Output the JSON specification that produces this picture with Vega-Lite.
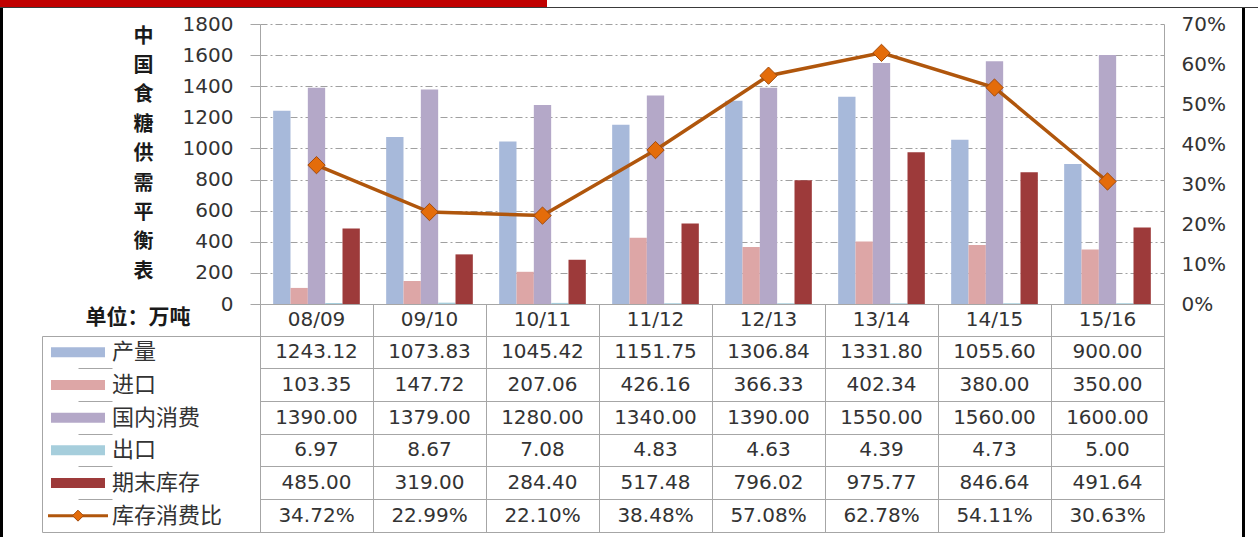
{
  "$schema": "https://vega.github.io/schema/vega-lite/v6.json",
  "padding": 0,
  "background": "white",
  "spacing": 0,
  "config": {"view": {"stroke": null}, "font": "DejaVu Sans"},
  "datasets": {
    "sugar": [
      {"year": "08/09", "产量": 1243.12, "进口": 103.35, "国内消费": 1390.00, "出口": 6.97, "期末库存": 485.00, "库存消费比": 0.3472},
      {"year": "09/10", "产量": 1073.83, "进口": 147.72, "国内消费": 1379.00, "出口": 8.67, "期末库存": 319.00, "库存消费比": 0.2299},
      {"year": "10/11", "产量": 1045.42, "进口": 207.06, "国内消费": 1280.00, "出口": 7.08, "期末库存": 284.40, "库存消费比": 0.2210},
      {"year": "11/12", "产量": 1151.75, "进口": 426.16, "国内消费": 1340.00, "出口": 4.83, "期末库存": 517.48, "库存消费比": 0.3848},
      {"year": "12/13", "产量": 1306.84, "进口": 366.33, "国内消费": 1390.00, "出口": 4.63, "期末库存": 796.02, "库存消费比": 0.5708},
      {"year": "13/14", "产量": 1331.80, "进口": 402.34, "国内消费": 1550.00, "出口": 4.39, "期末库存": 975.77, "库存消费比": 0.6278},
      {"year": "14/15", "产量": 1055.60, "进口": 380.00, "国内消费": 1560.00, "出口": 4.73, "期末库存": 846.64, "库存消费比": 0.5411},
      {"year": "15/16", "产量": 900.00, "进口": 350.00, "国内消费": 1600.00, "出口": 5.00, "期末库存": 491.64, "库存消费比": 0.3063}
    ],
    "legend": [
      {"series": "产量"}, {"series": "进口"}, {"series": "国内消费"}, {"series": "出口"}, {"series": "期末库存"}, {"series": "库存消费比"}
    ],
    "none": []
  },
  "data": {"name": "none"},
  "vconcat": [
    {"width": 547, "height": 7, "view": {"fill": "#C00000"}, "mark": "point", "encoding": {}},
    {"width": 1258, "height": 1, "view": {"fill": "#3A3A3A"}, "mark": "point", "encoding": {}},
    {
      "columns": 6,
      "spacing": 0,
      "bounds": "flush",
      "concat": [
        {"width": 3, "height": 16, "view": {"fill": "#000000"}, "mark": "point", "encoding": {}},
        {"width": 39, "height": 1, "mark": "point", "encoding": {}},
        {"width": 218, "height": 1, "mark": "point", "encoding": {}},
        {"width": 904, "height": 1, "mark": "point", "encoding": {}},
        {"width": 78, "height": 1, "mark": "point", "encoding": {}},
        {"width": 3, "height": 16, "view": {"fill": "#000000"}, "mark": "point", "encoding": {}},

        {"width": 3, "height": 280, "view": {"fill": "#000000"}, "mark": "point", "encoding": {}},
        {"width": 39, "height": 1, "mark": "point", "encoding": {}},
        {"width": 218, "height": 1, "mark": "point", "encoding": {}},
        {
          "width": 904,
          "height": 280,
          "data": {"name": "sugar"},
          "layer": [
            {
              "transform": [{"fold": ["产量", "进口", "国内消费", "出口", "期末库存"], "as": ["series", "value"]}],
              "mark": {"type": "bar"},
              "encoding": {
                "x": {"field": "year", "type": "nominal", "sort": null, "scale": {"type": "band", "paddingInner": 0, "paddingOuter": 0}, "axis": null},
                "xOffset": {"field": "series", "type": "nominal", "sort": ["产量", "进口", "国内消费", "出口", "期末库存"], "scale": {"paddingInner": 0, "paddingOuter": 0.76}},
                "y": {
                  "field": "value", "type": "quantitative",
                  "scale": {"domain": [0, 1800], "nice": false},
                  "axis": {
                    "orient": "left",
                    "values": [0, 200, 400, 600, 800, 1000, 1200, 1400, 1600, 1800],
                    "format": "d",
                    "title": ["中", "国", "食", "糖", "供", "需", "平", "衡", "表"],
                    "titleAngle": 0, "titleAlign": "center", "titleBaseline": "top",
                    "titleX": -117, "titleY": 2,
                    "titleFont": "Noto Sans CJK SC", "titleFontSize": 20, "titleFontWeight": "bold",
                    "titleColor": "#1A1A1A", "titleLineHeight": 29.4,
                    "grid": true, "gridColor": "#A0A0A0", "gridDash": [7, 3, 2, 3],
                    "domainColor": "#A6A6A6", "tickColor": "#A6A6A6", "tickSize": 10,
                    "labelPadding": 17, "labelFont": "DejaVu Sans", "labelFontSize": 20, "labelColor": "#333333"
                  }
                },
                "color": {
                  "field": "series", "type": "nominal",
                  "scale": {"domain": ["产量", "进口", "国内消费", "出口", "期末库存"], "range": ["#A7B9DA", "#DDA6A6", "#B4A8C8", "#A6CEDC", "#9D3A3A"]},
                  "legend": null
                }
              }
            },
            {
              "layer": [
                {
                  "mark": {"type": "line", "color": "#B0560C", "strokeWidth": 3.5},
                  "encoding": {
                    "x": {"field": "year", "type": "nominal", "sort": null, "scale": {"type": "band", "paddingInner": 0, "paddingOuter": 0}, "axis": null},
                    "y": {
                      "field": "库存消费比", "type": "quantitative",
                      "scale": {"domain": [0, 0.7], "nice": false},
                      "axis": {
                        "orient": "right", "title": null,
                        "values": [0, 0.1, 0.2, 0.3, 0.4, 0.5, 0.6, 0.7], "format": ".0%",
                        "grid": false, "ticks": false, "domainColor": "#A6A6A6",
                        "labelPadding": 17, "labelFont": "DejaVu Sans", "labelFontSize": 20, "labelColor": "#333333"
                      }
                    }
                  }
                },
                {
                  "mark": {"type": "point", "shape": "diamond", "filled": true, "size": 300, "fill": "#E46C0A", "stroke": "#A24A0B", "strokeWidth": 1, "opacity": 1},
                  "encoding": {
                    "x": {"field": "year", "type": "nominal", "sort": null, "scale": {"type": "band", "paddingInner": 0, "paddingOuter": 0}, "axis": null},
                    "y": {"field": "库存消费比", "type": "quantitative", "axis": {"orient": "right", "title": null, "values": [0, 0.1, 0.2, 0.3, 0.4, 0.5, 0.6, 0.7], "format": ".0%", "grid": false, "ticks": false, "domainColor": "#A6A6A6", "labelPadding": 17, "labelFont": "DejaVu Sans", "labelFontSize": 20, "labelColor": "#333333"}}
                  }
                }
              ]
            }
          ],
          "resolve": {"scale": {"y": "independent"}}
        },
        {"width": 78, "height": 1, "mark": "point", "encoding": {}},
        {"width": 3, "height": 280, "view": {"fill": "#000000"}, "mark": "point", "encoding": {}},

        {"width": 3, "height": 32, "view": {"fill": "#000000"}, "mark": "point", "encoding": {}},
        {"width": 39, "height": 1, "mark": "point", "encoding": {}},
        {
          "width": 218, "height": 32,
          "data": {"values": [{"unit": "单位：万吨"}]},
          "mark": {"type": "text", "font": "Noto Sans CJK SC", "fontSize": 21, "fontWeight": "bold", "color": "#1A1A1A", "dx": -13, "dy": -2},
          "encoding": {"text": {"field": "unit"}}
        },
        {
          "width": 904, "height": 32,
          "data": {"name": "sugar"},
          "view": {"stroke": "#A6A6A6"},
          "mark": {"type": "text", "font": "DejaVu Sans", "fontSize": 20, "color": "#333333"},
          "encoding": {
            "x": {"field": "year", "type": "nominal", "sort": null, "scale": {"type": "band", "paddingInner": 0, "paddingOuter": 0},
                  "axis": {"orient": "top", "title": null, "labels": false, "ticks": false, "domain": false, "grid": true, "bandPosition": 0, "gridColor": "#A6A6A6"}},
            "text": {"field": "year"}
          }
        },
        {"width": 78, "height": 1, "mark": "point", "encoding": {}},
        {"width": 3, "height": 32, "view": {"fill": "#000000"}, "mark": "point", "encoding": {}},

        {"width": 3, "height": 196, "view": {"fill": "#000000"}, "mark": "point", "encoding": {}},
        {"width": 39, "height": 1, "mark": "point", "encoding": {}},
        {
          "width": 218, "height": 196,
          "data": {"name": "legend"},
          "view": {"stroke": "#A6A6A6"},
          "encoding": {
            "y": {"field": "series", "type": "nominal",
                  "scale": {"type": "band", "domain": ["产量", "进口", "国内消费", "出口", "期末库存", "库存消费比"], "paddingInner": 0, "paddingOuter": 0},
                  "axis": {"title": null, "labels": false, "ticks": false, "domain": false, "grid": true, "bandPosition": 0, "gridColor": "#A6A6A6"}}
          },
          "layer": [
            {
              "transform": [{"filter": "datum.series !== '库存消费比'"}],
              "mark": {"type": "point", "shape": "M-1,-0.185H1V0.185H-1Z", "filled": true, "size": 2916, "opacity": 1, "strokeWidth": 0},
              "encoding": {
                "x": {"datum": "key", "type": "nominal", "scale": {"type": "point", "domain": ["key", "label"], "range": [36, 70], "padding": 0}, "axis": null},
                "color": {
                  "field": "series", "type": "nominal",
                  "scale": {"domain": ["产量", "进口", "国内消费", "出口", "期末库存"], "range": ["#A7B9DA", "#DDA6A6", "#B4A8C8", "#A6CEDC", "#9D3A3A"]},
                  "legend": null
                }
              }
            },
            {
              "transform": [{"filter": "datum.series === '库存消费比'"}],
              "mark": {"type": "point", "shape": "stroke", "filled": false, "size": 3600, "stroke": "#B0560C", "strokeWidth": 3, "opacity": 1},
              "encoding": {
                "x": {"datum": "key", "type": "nominal", "scale": {"type": "point", "domain": ["key", "label"], "range": [36, 70], "padding": 0}, "axis": null}
              }
            },
            {
              "transform": [{"filter": "datum.series === '库存消费比'"}],
              "mark": {"type": "point", "shape": "diamond", "filled": true, "size": 120, "fill": "#E46C0A", "stroke": "#A24A0B", "strokeWidth": 1, "opacity": 1},
              "encoding": {
                "x": {"datum": "key", "type": "nominal", "scale": {"type": "point", "domain": ["key", "label"], "range": [36, 70], "padding": 0}, "axis": null}
              }
            },
            {
              "mark": {"type": "text", "align": "left", "font": "Noto Sans CJK SC", "fontSize": 22, "color": "#333333"},
              "encoding": {
                "x": {"datum": "label", "type": "nominal", "scale": {"type": "point", "domain": ["key", "label"], "range": [36, 70], "padding": 0}, "axis": null},
                "text": {"field": "series"}
              }
            }
          ]
        },
        {
          "width": 904, "height": 196,
          "data": {"name": "sugar"},
          "view": {"stroke": "#A6A6A6"},
          "encoding": {
            "x": {"field": "year", "type": "nominal", "sort": null, "scale": {"type": "band", "paddingInner": 0, "paddingOuter": 0},
                  "axis": {"orient": "top", "title": null, "labels": false, "ticks": false, "domain": false, "grid": true, "bandPosition": 0, "gridColor": "#A6A6A6"}}
          },
          "layer": [
            {
              "transform": [{"fold": ["产量", "进口", "国内消费", "出口", "期末库存"], "as": ["series", "value"]}],
              "mark": {"type": "text", "font": "DejaVu Sans", "fontSize": 20, "color": "#333333"},
              "encoding": {
                "y": {"field": "series", "type": "nominal",
                      "scale": {"type": "band", "domain": ["产量", "进口", "国内消费", "出口", "期末库存", "库存消费比"], "paddingInner": 0, "paddingOuter": 0},
                      "axis": {"title": null, "labels": false, "ticks": false, "domain": false, "grid": true, "bandPosition": 0, "gridColor": "#A6A6A6"}},
                "text": {"field": "value", "type": "quantitative", "format": ".2f"}
              }
            },
            {
              "mark": {"type": "text", "font": "DejaVu Sans", "fontSize": 20, "color": "#333333"},
              "encoding": {
                "y": {"datum": "库存消费比", "type": "nominal"},
                "text": {"field": "库存消费比", "type": "quantitative", "format": ".2%"}
              }
            }
          ]
        },
        {"width": 78, "height": 1, "mark": "point", "encoding": {}},
        {"width": 3, "height": 196, "view": {"fill": "#000000"}, "mark": "point", "encoding": {}},

        {"width": 3, "height": 5, "view": {"fill": "#000000"}, "mark": "point", "encoding": {}},
        {"width": 39, "height": 1, "mark": "point", "encoding": {}},
        {"width": 218, "height": 1, "mark": "point", "encoding": {}},
        {"width": 904, "height": 1, "mark": "point", "encoding": {}},
        {"width": 78, "height": 1, "mark": "point", "encoding": {}},
        {"width": 3, "height": 5, "view": {"fill": "#000000"}, "mark": "point", "encoding": {}}
      ]
    }
  ]
}
